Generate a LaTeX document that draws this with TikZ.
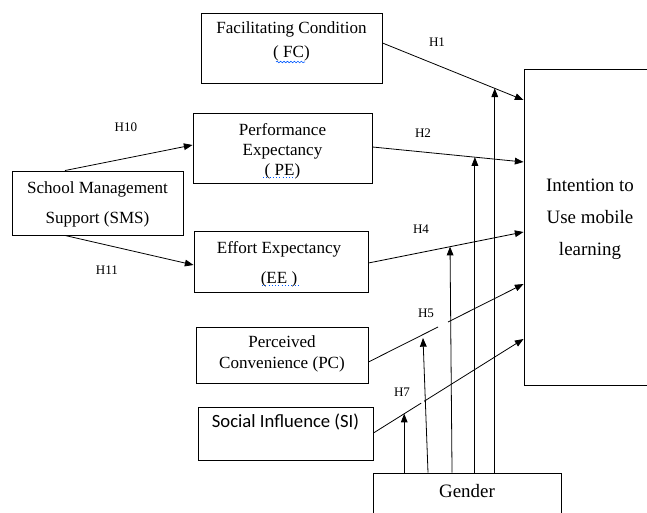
\documentclass[tikz,border=0pt]{standalone}
\usepackage{fontspec}
\setmainfont{Liberation Serif}
\newfontfamily\timesfont{Liberation Serif}
\newfontfamily\calibrifont{Carlito}
\usetikzlibrary{arrows.meta,calc,fit,decorations.pathmorphing}

\begin{document}
\begin{tikzpicture}[x=0.75pt,y=-0.75pt,
  box/.style={draw=black,line width=0.7pt,inner sep=0pt},
  txt/.style={font=\timesfont\fontsize{12.8}{#1}\selectfont,align=center,inner sep=0pt},
  txt/.default=18,
  bigtxt/.style={font=\timesfont\fontsize{14.2}{24}\selectfont,align=center,inner sep=0pt},
  hyp/.style={font=\timesfont\fontsize{9.8}{11}\selectfont,inner sep=0pt},
  link/.style={line width=0.6pt,-{Triangle[length=6.5pt,width=5pt]}},
  plain/.style={line width=0.6pt},
  spell/.style={draw=blue!65!cyan,line width=0.45pt}]

\useasboundingbox (0,0) rectangle (647,513);
\clip (0,0) rectangle (647,513);

% construct boxes
\node[box,fit={(201,13) (382,83)}]   (fc) {};
\node[box,fit={(193,113) (372,183)}] (pe) {};
\node[box,fit={(12,171) (183,235)}]  (sms) {};
\node[box,fit={(194,231) (368,292)}] (ee) {};
\node[box,fit={(196,327) (368,383)}] (pc) {};
\node[box,fit={(198,407) (373,460)}] (si) {};
\node[box,fit={(524,69) (660,385)}]  (int) {};
\node[box,fit={(373,473) (561,540)}] (gender) {};

% box texts
\node[txt=18] (fct) at (291.5,41.5) {Facilitating Condition\\( FC)};
\node[txt=15] (pet) at (282.5,151.5) {Performance\\Expectancy\\( PE)};
\node[txt=22.5] (smst) at (97.5,204.5) {School Management\\Support (SMS)};
\node[txt=22.5] (eet) at (279,264.5) {Effort Expectancy\\(EE )};
\node[txt=16] (pct) at (282,354) {Perceived\\Convenience (PC)};
\node[anchor=base,inner sep=0pt,font=\calibrifont\fontsize{14}{16}\selectfont] (sit) at (285.5,428) {Social Influence (SI)};
\node[bigtxt] (intt) at (590,219) {Intention to\\Use mobile\\learning};
\node[bigtxt,anchor=base] (gendert) at (467,498) {Gender};

% spell-check marks under the abbreviations
\draw[spell,decorate,decoration={snake,amplitude=0.6pt,segment length=2.6pt}] (276,62) -- (305,62);
\draw[spell,dotted] (263,177) -- (295,177);
\draw[spell,dotted] (262,285) -- (298,285);

% end points of the direct paths
\coordinate (fcS) at (fc.east |- 0,43);   \coordinate (fcE) at (int.west |- 0,100);
\coordinate (peS) at (pe.east |- 0,147);  \coordinate (peE) at (int.west |- 0,162);
\coordinate (eeS) at (ee.east |- 0,263);  \coordinate (eeE) at (int.west |- 0,232);
\coordinate (pcS) at (pc.east |- 0,362);  \coordinate (pcE) at (int.west |- 0,284);
\coordinate (siS) at (si.east |- 0,433);  \coordinate (siE) at (int.west |- 0,339);

% direct paths to the intention box
\draw[link] (fcS) -- (fcE);
\draw[link] (peS) -- (peE);
\draw[link] (eeS) -- (eeE);
\draw[plain] (pcS) -- ($(pcS)!0.449!(pcE)$);
\draw[link] ($(pcS)!0.513!(pcE)$) -- (pcE);
\draw[plain] (siS) -- ($(siS)!0.318!(siE)$);
\draw[link] ($(siS)!0.338!(siE)$) -- (siE);

% paths from school management support
\draw[link] (sms.north -| 65,0) -- (pe.west |- 0,145);
\draw[link] (sms.south -| 65,0) -- (ee.west |- 0,265);

% moderating paths from gender
\coordinate (mSI) at ($(siS)!0.205!(siE)$);
\coordinate (mPC) at (423,338);
\coordinate (mEE) at ($(eeS)!0.526!(eeE)$);
\coordinate (mPE) at ($(peS)!0.678!(peE)$);
\coordinate (mFC) at ($(fcS)!0.796!(fcE)$);
\draw[link] (gender.north -| mSI) -- (mSI);
\draw[link] (gender.north -| 428,0) -- (mPC);
\draw[link] ($(gender.north -| mEE)+(2,0)$) -- (mEE);
\draw[link] (gender.north -| mPE) -- (mPE);
\draw[link] (gender.north -| mFC) -- (mFC);

% hypothesis labels
\node[hyp] (h1)  at (437,42)  {H1};
\node[hyp] (h10) at (126,127) {H10};
\node[hyp] (h2)  at (423,133) {H2};
\node[hyp] (h11) at (107,270) {H11};
\node[hyp] (h4)  at (421,229) {H4};
\node[hyp] (h5)  at (426,313) {H5};
\node[hyp] (h7)  at (402,392) {H7};
\end{tikzpicture}
\end{document}
